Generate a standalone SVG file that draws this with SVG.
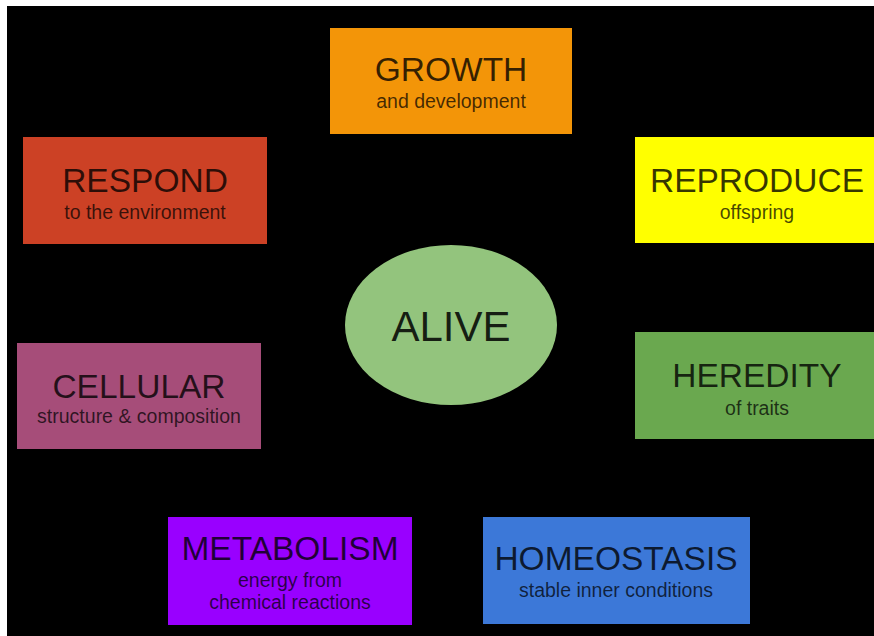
<svg xmlns="http://www.w3.org/2000/svg" width="874" height="636" viewBox="0 0 874 636">
<style>
.t{font-family:"Liberation Sans",Arial,sans-serif;font-size:33.5px;text-anchor:middle;fill:#000;fill-opacity:0.78}
.s{font-family:"Liberation Sans",Arial,sans-serif;font-size:19.5px;text-anchor:middle;fill:#000;fill-opacity:0.72}
.a{font-family:"Liberation Sans",Arial,sans-serif;font-size:42px;text-anchor:middle;fill:#000;fill-opacity:0.85}
</style>
<rect x="0" y="0" width="874" height="636" fill="#ffffff"/>
<rect x="7" y="6" width="867" height="630" fill="#000000"/>
<g id="connectors"></g>
<g id="growth">
<rect x="330" y="28" width="242" height="106" fill="#F39508"/>
<text class="t" x="451" y="81">GROWTH</text>
<text class="s" x="451" y="108">and development</text>
</g>
<g id="respond">
<rect x="23" y="137" width="244" height="107" fill="#CC4125"/>
<text class="t" x="145" y="192">RESPOND</text>
<text class="s" x="145" y="219">to the environment</text>
</g>
<g id="reproduce">
<rect x="635" y="137" width="239" height="106" fill="#FFFF00"/>
<text class="t" x="757" y="192">REPRODUCE</text>
<text class="s" x="757" y="219">offspring</text>
</g>
<g id="alive">
<ellipse cx="451" cy="325" rx="106" ry="80" fill="#93C47D"/>
<text class="a" x="451" y="341">ALIVE</text>
</g>
<g id="cellular">
<rect x="17" y="343" width="244" height="106" fill="#A64D79"/>
<text class="t" x="139" y="398">CELLULAR</text>
<text class="s" x="139" y="423">structure &amp; composition</text>
</g>
<g id="heredity">
<rect x="635" y="332" width="239" height="107" fill="#6AA84F"/>
<text class="t" x="757" y="387">HEREDITY</text>
<text class="s" x="757" y="415">of traits</text>
</g>
<g id="metabolism">
<rect x="168" y="517" width="244" height="108" fill="#9900FF"/>
<text class="t" x="290" y="560">METABOLISM</text>
<text class="s" x="290" y="587">energy from</text>
<text class="s" x="290" y="609">chemical reactions</text>
</g>
<g id="homeostasis">
<rect x="483" y="517" width="267" height="107" fill="#3C78D8"/>
<text class="t" x="616" y="570">HOMEOSTASIS</text>
<text class="s" x="616" y="597">stable inner conditions</text>
</g>
</svg>
